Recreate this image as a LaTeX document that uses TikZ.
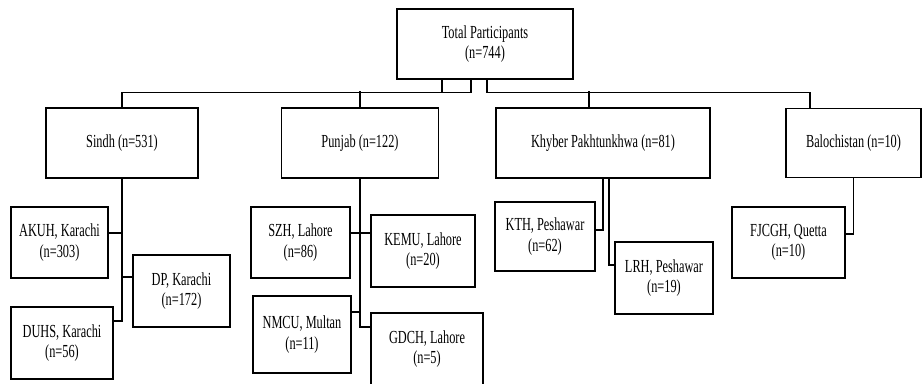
\documentclass[tikz,border=0pt]{standalone}
\usepackage{fontspec}
\setmainfont[FakeStretch=0.67]{Liberation Serif}
\usetikzlibrary{calc}

\tikzset{
  box/.style={draw, line width=1.1pt, rectangle, align=center, inner sep=0pt,
    font=\fontsize{13.8}{15.2}\selectfont},
  link/.style={line width=1pt},
  trunk/.style={line width=1.5pt}
}

\begin{document}
\begin{tikzpicture}[x=0.75pt,y=0.75pt,yscale=-1,xscale=1]
\useasboundingbox (0,0) rectangle (922,383);

%Shape: Rectangle (top)
\node (total) at (485,44) [box, minimum width=176*0.75pt, minimum height=70*0.75pt] {Total Participants\\(n=744)};

%Shape: Rectangle (provinces)
\node (sindh) at (122,143) [box, minimum width=152*0.75pt, minimum height=70*0.75pt] {Sindh (n=531)};
\node (punjab) at (360,143) [box, minimum width=157*0.75pt, minimum height=70*0.75pt] {Punjab (n=122)};
\node (kp) at (603,143) [box, minimum width=214*0.75pt, minimum height=70*0.75pt] {Khyber Pakhtunkhwa (n=81)};
\node (baloch) at (853.5,143) [box, minimum width=135*0.75pt, minimum height=69*0.75pt] {Balochistan (n=10)};

%Shape: Rectangle (sites)
\node (akuh) at (59.5,242.5) [box, minimum width=97*0.75pt, minimum height=71*0.75pt] {AKUH, Karachi\\(n=303)};
\node (duhs) at (62,343) [box, minimum width=102*0.75pt, minimum height=72*0.75pt] {DUHS, Karachi\\(n=56)};
\node (dp) at (181.5,291) [box, minimum width=97*0.75pt, minimum height=72*0.75pt] {DP, Karachi\\(n=172)};
\node (szh) at (300.5,242.5) [box, minimum width=99*0.75pt, minimum height=71*0.75pt] {SZH, Lahore\\(n=86)};
\node (kemu) at (423,251) [box, minimum width=104*0.75pt, minimum height=72*0.75pt] {KEMU, Lahore\\(n=20)};
\node (nmcu) at (302,334.5) [box, minimum width=98*0.75pt, minimum height=77*0.75pt] {NMCU, Multan\\(n=11)};
\node (gdch) at (427,349) [box, minimum width=112*0.75pt, minimum height=72*0.75pt] {GDCH, Lahore\\(n=5)};
\node (kth) at (545,236.5) [box, minimum width=100*0.75pt, minimum height=69*0.75pt] {KTH, Peshawar\\(n=62)};
\node (lrh) at (664,278) [box, minimum width=98*0.75pt, minimum height=72*0.75pt] {LRH, Peshawar\\(n=19)};
\node (fjcgh) at (788.5,242.5) [box, minimum width=113*0.75pt, minimum height=71*0.75pt] {FJCGH, Quetta\\(n=10)};

%Straight Lines (top level)
\draw [link] (total.south) ++(-43,0) -- ++(0,13);
\draw [link] (total.south) ++(-14,0) -- ++(0,13) -| (sindh.north);
\draw [link] (punjab.north) -- ++(0,-16);
\draw [link] (total.south) ++(2,0) -- ++(0,13) -| ($(baloch.north)+(-43.5,0)$);
\draw [link] ($(kp.north)+(-14,0)$) -- ++(0,-16);

%Straight Lines (Sindh)
\draw [trunk] ($(duhs.east)+(0,-22)$) -| (sindh.south);
\draw [link] ($(akuh.east)+(0,-9.5)$) -| (sindh.south);
\draw [link] ($(dp.west)+(0,-14)$) -| (sindh.south);

%Straight Lines (Punjab)
\draw [trunk] ($(gdch.west)+(0,-22)$) -| (punjab.south);
\draw [link] ($(szh.east)+(0,-9.5)$) -| (punjab.south);
\draw [link] ($(kemu.west)+(0,-18)$) -| (punjab.south);
\draw [link] ($(nmcu.east)+(0,-22.5)$) -| (punjab.south);

%Straight Lines (Khyber Pakhtunkhwa)
\draw [link] ($(kth.east)+(0,-6.5)$) -| (kp.south);
\draw [link] ($(lrh.west)+(0,-13)$) -| ($(kp.south)+(6,0)$);

%Straight Lines (Balochistan)
\draw [link] ($(fjcgh.east)+(0,-8.5)$) -| (baloch.south);

\end{tikzpicture}
\end{document}
